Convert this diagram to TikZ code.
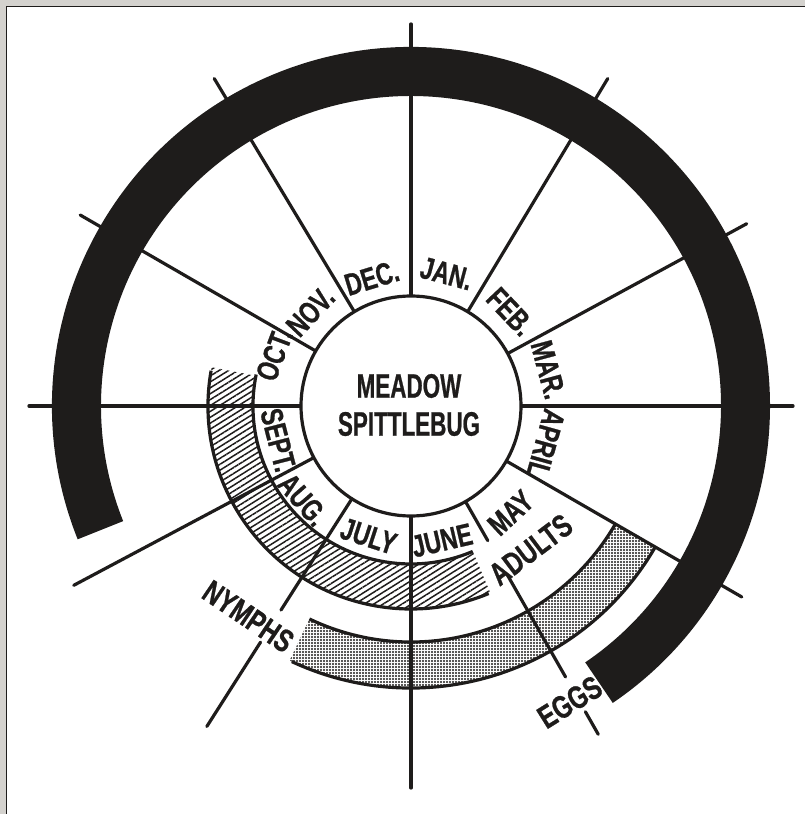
\documentclass[tikz,border=0pt]{standalone}
\usepackage{fontspec}
\setmainfont{Liberation Sans}
\newfontfamily\monthfont[FakeStretch=0.74,FakeBold=0.8]{Liberation Sans}
\newfontfamily\titlefont[FakeStretch=0.66,FakeBold=0.6]{Liberation Sans}
\usetikzlibrary{patterns.meta}
\definecolor{ink}{HTML}{1E1C1B}
\definecolor{paper}{HTML}{D4D2CE}

\begin{document}
\begin{tikzpicture}[
  x=1pt,y=1pt,
  inkline/.style={draw=ink,line width=3.2pt},
  spoke/.style={ink,line width=3.2pt,line cap=round},
  month/.style={font=\monthfont\bfseries\fontsize{31}{31}\selectfont,text=ink,inner sep=1pt},
  stage/.style={font=\monthfont\bfseries\fontsize{32}{32}\selectfont,text=ink,inner sep=1pt},
  title/.style={font=\titlefont\bfseries\fontsize{34}{38}\selectfont,align=center,text=ink},
  hatched/.style={pattern={Lines[angle=32,distance=5pt,line width=1.5pt]},pattern color=ink},
  stippled/.style={pattern={Dots[distance=3pt,radius=1.2pt]},pattern color=ink},
]
\useasboundingbox (-411,-408) rectangle (394,406);

% page edge
\fill[paper] (-411,-408) rectangle (-405,406);
\fill[paper] (-411,400) rectangle (394,406);
\draw[ink,line width=0.8pt] (-404.5,-408) -- (-404.5,399.5) -- (394,399.5);

% nymphs (hatched) and adults (dotted)
\fill[hatched] (169:158) arc[start angle=169,end angle=293,radius=158]
  -- (293:203) arc[start angle=293,end angle=169,radius=203] -- cycle;
\draw[inkline] (168.5:158) arc[start angle=168.5,end angle=293,radius=158];
\draw[inkline] (170:203) arc[start angle=170,end angle=292.5,radius=203];
\fill[stippled] (244.5:236) arc[start angle=244.5,end angle=330,radius=236]
  -- (330:282) arc[start angle=330,end angle=244.5,radius=282] -- cycle;
\draw[inkline] (244.5:236) arc[start angle=244.5,end angle=330,radius=236];
\draw[inkline] (245:282) arc[start angle=245,end angle=330,radius=282];

% spokes and ticks
\foreach \a in {0,28.5,59,90,121,150,180,208,270,330}
  \draw[spoke] (\a:110) -- (\a:382);
\draw[spoke] (237.5:110) -- (237.5:242) (237.5:280) -- (237.5:380);
\draw[spoke] (299.7:110) -- (299.7:155) (299.7:194) -- (299.7:312)
  (299.7:352) -- (299.7:378);

% eggs
\fill[ink] (-55.8:310) arc[start angle=-55.8,end angle=201.8,radius=310]
  -- (201.8:359) arc[start angle=201.8,end angle=-55.8,radius=359] -- cycle;

\draw[inkline,fill=white] (0,0) circle[radius=110];
\node[title] (bug) at (-2,1) {MEADOW\\SPITTLEBUG};

\foreach \ang/\r/\rot/\txt [count=\i] in {
    107/134/17/DEC., 75/137/-15/JAN., 43.5/137/-46.5/FEB.,
    14.8/142/-75/MAR., -15.5/140/-105.5/APRIL, -47/146/43/MAY,
    -77/138/13/JUNE, -108/137/-18/JULY, -139/143/-49/AUG.,
    194.4/137/-75.6/SEPT., 159.5/146/69.5/OCT., 136.8/138/46.8/NOV.}
  \node[month,rotate=\rot] (m\i) at (\ang:\r) {\txt};

\node[stage,rotate=-34] (nymphs) at (232.3:266) {NYMPHS};
\node[stage,rotate=37] (adults) at (-50.2:187) {ADULTS};
\node[stage,rotate=32] (eggs) at (-61.8:336) {EGGS};
\end{tikzpicture}
\end{document}
